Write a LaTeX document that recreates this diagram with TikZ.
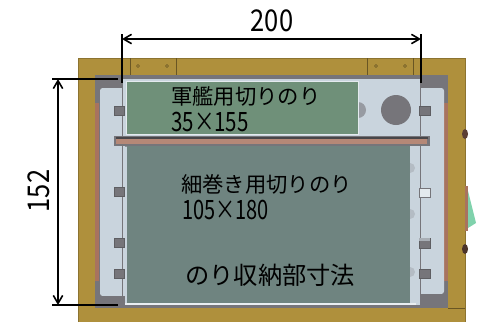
\documentclass[tikz,border=0pt]{standalone}
\usepackage{fontspec}
\usepackage{graphicx}
\setmainfont{Noto Sans CJK JP}
\usetikzlibrary{arrows.meta}
\definecolor{wood}{HTML}{AF903C}
\definecolor{frame}{HTML}{76757A}
\definecolor{panel}{HTML}{C9D4DD}
\definecolor{copper}{HTML}{A8735F}
\definecolor{norisho}{HTML}{6F9079}
\definecolor{norilong}{HTML}{6F8480}
\tikzset{
  dimline/.style={black,line width=1.2pt},
  dimarrow/.style={dimline,{Straight Barb[length=6pt,width=7pt,line width=1.2pt]}-{Straight Barb[length=6pt,width=7pt,line width=1.2pt]}},
  tab/.style={fill=frame,draw=frame!80!black,line width=0.2pt},
  screw/.style={draw=wood!60!black,line width=0.4pt},
  dimtext/.style={inner sep=0pt,font=\fontsize{22.5pt}{22.5pt}\selectfont},
  label/.style={inner sep=0pt,anchor=west,font=\fontsize{16pt}{16pt}\selectfont},
  sizelabel/.style={inner sep=0pt,anchor=west,font=\fontsize{20pt}{20pt}\selectfont}
}
\begin{document}
\begin{tikzpicture}[x=0.75pt,y=-0.75pt]
    \useasboundingbox (0,0) rectangle (482,322);
    % box
    \fill[wood] (78,58) rectangle (465,322);
    \draw[wood!80!black,line width=0.3pt] (78,58) -- (465,58) -- (465,322);
    \draw[wood!80!black,line width=0.3pt] (78,58) -- (78,322);
    \draw[screw] (448,308) -- (465,308);
    \foreach \x in {130,176,367,413}
        \draw[screw] (\x,58) -- (\x,75);
    \foreach \x in {138,167,376,405}
        \draw[screw] (\x,66) circle (1.5);
    % outside parts on the right
    \fill[black!45!copper] (465,134) ellipse (3 and 5);
    \fill[black!55!copper] (465,249) ellipse (3 and 5);
    \fill[copper] (465,186) rectangle (468,231);
    \fill[green!30!teal!50!white] (468,191) -- (476,223) -- (468,228) -- cycle;
    % inner opening
    \fill[frame] (95,75) rectangle (448,308);
    \fill[copper] (95,103) rectangle (99,281);
    \fill[copper] (444,103) rectangle (448,281);
    \fill[panel,rounded corners=2pt] (100,88) rectangle (130,296);
    \fill[panel,rounded corners=2pt] (410,88) rectangle (444,294);
    % centre plate
    \fill[frame] (96,79) rectangle (123,88);
    \fill[frame] (421,79) rectangle (444,88);
    \fill[panel] (123,79) rectangle (420,305);
    \fill[frame] (100,296) rectangle (125,305);
    \fill[frame] (421,294) rectangle (444,305);
    \draw[frame,line width=0.8pt] (122.5,79) -- (122.5,305);
    \draw[frame,line width=0.8pt] (420.5,83) -- (420.5,302);
    % tabs
    \foreach \y in {106,187,238,269}
        \draw[tab] (114,\y) rectangle (124.5,\y+9.5);
    \draw[tab] (419,106) rectangle (430,115);
    \draw[fill=panel!50!white,draw=frame,line width=0.2pt] (419,188) rectangle (430,197);
    \draw[tab] (419,238) rectangle (430,248);
    \fill[panel!60!frame] (419,238) rectangle (430,241);
    \draw[tab] (419,269) rectangle (430,278);
    % seaweed sheets
    \fill[frame!60!panel] (358,110) circle (8);
    \foreach \y in {168,214,272}
        \fill[frame!25!panel] (410,\y) circle (5);
    \fill[panel!50!white] (126,81) rectangle (359,135);
    \fill[norisho] (127,82) rectangle (358,134);
    \fill[panel!40!white] (125,303) rectangle (416,305);
    \fill[frame!70!panel] (125,145) rectangle (410,147);
    \fill[norilong] (127,146) rectangle (410,303);
    % bar
    \fill[frame] (114,136) rectangle (430,146);
    \fill[frame!60!black] (116,136.5) rectangle (428,138.5);
    \fill[copper!85!white] (116,138.5) rectangle (427,144);
    % round hole
    \fill[frame] (396,110) circle (15);
    % dimensions
    \coordinate (wtopa) at (122,34);
    \coordinate (wbota) at (122,83);
    \coordinate (wtopb) at (421,34);
    \coordinate (wbotb) at (421,83);
    \coordinate (wdima) at (122,39);
    \coordinate (wdimb) at (421,39);
    \coordinate (hlefta) at (52,79);
    \coordinate (hrighta) at (118,79);
    \coordinate (hleftb) at (52,305);
    \coordinate (hrightb) at (118,305);
    \coordinate (hdima) at (58,79);
    \coordinate (hdimb) at (58,305);
    \draw[dimline] (wtopa) -- (wbota);
    \draw[dimline] (wtopb) -- (wbotb);
    \draw[dimline] (hlefta) -- (hrighta);
    \draw[dimline] (hleftb) -- (hrightb);
    \draw[dimarrow] (wdima) -- (wdimb);
    \draw[dimarrow] (hdima) -- (hdimb);
    \node[dimtext] (widthlabel) at (272,21) {\scalebox{0.85}[1]{200}};
    \node[dimtext,rotate=90] (heightlabel) at (39,191) {\scalebox{0.85}[1]{152}};
    % texts
    \node[label] (gunkan) at (171,96) {軍艦用切りのり};
    \node[sizelabel] (gunkansize) at (171,122) {\scalebox{0.77}[1]{35×155}};
    \node[label] (hosomaki) at (181,184) {細巻き用切りのり};
    \node[sizelabel] (hosomakisize) at (182,210) {\scalebox{0.75}[1]{105×180}};
    \node[label,font=\fontsize{18.2pt}{18.2pt}\selectfont] (shuno) at (185,275) {のり収納部寸法};
\end{tikzpicture}
\end{document}
